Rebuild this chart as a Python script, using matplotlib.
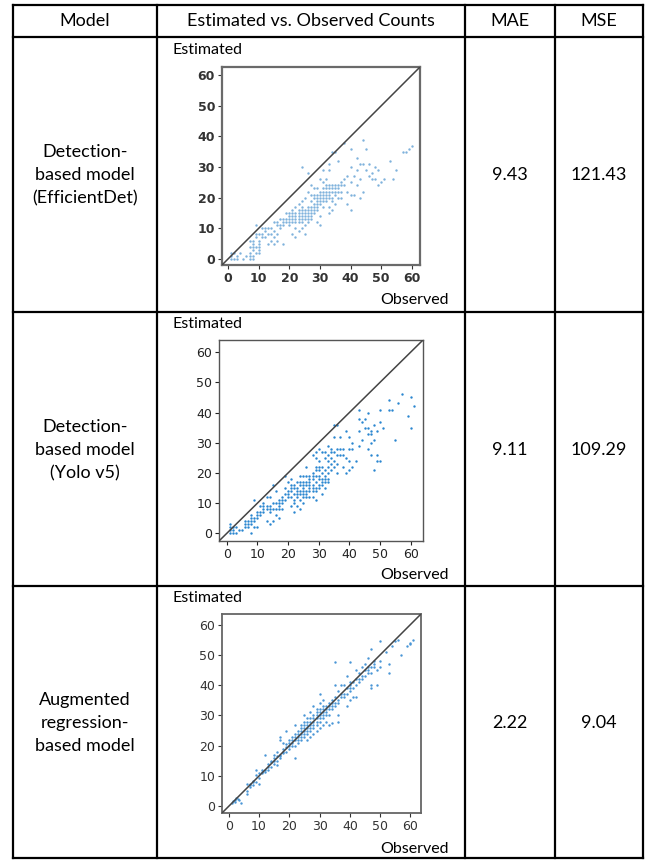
import matplotlib
matplotlib.use("Agg")
import matplotlib.pyplot as plt

# table text
headers = ["Model", "Estimated vs. Observed Counts", "MAE", "MSE"]
models = ["Detection-\nbased model\n(EfficientDet)",
          "Detection-\nbased model\n(Yolo v5)",
          "Augmented\nregression-\nbased model"]
mae = ["9.43", "9.11", "2.22"]
mse = ["121.43", "109.29", "9.04"]
ticks = [0, 10, 20, 30, 40, 50, 60]

# EfficientDet: observed / estimated
eff_obs = [1, 2, 3, 1, 1, 2, 3, 4, 5, 6, 7, 7, 7, 8, 8, 8, 7, 8, 8, 7, 8, 9, 9, 9, 9, 10, 10, 10,
           9, 10, 10, 11, 11, 12, 12, 13, 13, 14, 14, 15, 15, 15, 16, 16, 16, 17, 17, 18, 18, 18,
           19, 19, 20, 20, 20, 21, 21, 21, 21, 22, 22, 22, 22, 22, 23, 23, 23, 23, 23, 24, 24, 24,
           24, 24, 24, 24, 25, 25, 25, 25, 25, 26, 26, 26, 26, 26, 27, 27, 27, 27, 27, 28, 28, 28,
           28, 29, 29, 29, 29, 29, 30, 30, 30, 30, 30, 31, 31, 31, 31, 31, 32, 32, 32, 32, 33, 33,
           33, 33, 33, 33, 34, 34, 34, 34, 35, 35, 35, 35, 36, 36, 36, 37, 37, 38, 38, 39, 39, 39,
           40, 40, 40, 40, 40, 41, 41, 42, 42, 42, 43, 43, 43, 44, 44, 44, 45, 45, 46, 46, 47, 47,
           48, 48, 49, 49, 50, 51, 53, 54, 55, 57, 58, 59, 60,
           17, 18, 19, 20, 20, 21, 21, 22, 22, 23, 23, 24, 24, 25, 25, 26, 26, 26, 27, 27, 27, 28,
           28, 28, 29, 29, 29, 30, 30, 30, 31, 31, 31, 32, 32, 32, 33, 33, 33, 34, 34, 34, 35, 35,
           36, 36, 37, 37, 38, 14, 13, 12, 11, 10, 15, 16]
eff_est = [0, 0, 0, 1, 2, 2, 1, 2, 0, 1, 0, 1, 2, 0, 1, 3, 4, 4, 5, 6, 6, 7, 8, 11, 4, 3, 5, 6,
           2, 2, 4, 7, 8, 9, 10, 10, 5, 6, 8, 7, 9, 5, 6, 8, 12, 10, 11, 5, 12, 13,
           12, 15, 11, 13, 15, 8, 12, 14, 16, 7, 10, 13, 15, 17, 9, 12, 14, 16, 18, 10, 12, 14,
           15, 17, 19, 30, 8, 11, 13, 16, 20, 12, 14, 17, 22, 28, 13, 16, 19, 21, 24, 15, 17, 20,
           23, 12, 16, 18, 21, 23, 11, 14, 19, 22, 26, 17, 20, 23, 25, 29, 19, 21, 24, 26, 15, 17,
           20, 22, 29, 31, 16, 19, 23, 35, 18, 21, 24, 35, 22, 24, 32, 25, 20, 26, 38, 18, 22, 27,
           16, 21, 25, 30, 36, 21, 27, 24, 29, 33, 20, 26, 31, 22, 31, 39, 29, 36, 27, 31, 26, 28,
           26, 30, 24, 29, 25, 26, 32, 26, 29, 35, 35, 36, 37,
           13, 11, 13, 12, 14, 13, 15, 14, 12, 13, 15, 13, 16, 14, 15, 13, 15, 16, 14, 15, 17, 16,
           18, 21, 17, 19, 20, 18, 20, 21, 19, 21, 22, 20, 22, 23, 21, 23, 24, 20, 22, 24, 22, 23,
           20, 23, 22, 24, 24, 10, 8, 7, 10, 8, 12, 11]

# Yolo v5: observed / estimated
yolo_obs = [1, 1, 1, 1, 2, 2, 2, 3, 3, 4, 5, 6, 6, 6, 7, 7, 7, 8, 8, 8, 8, 8, 9, 9, 9, 9, 10, 10,
            10, 11, 11, 12, 12, 12, 13, 13, 13, 14, 14, 14, 14, 15, 15, 15, 16, 16, 16, 17, 17,
            17, 17, 18, 18, 18, 19, 19, 19, 20, 20, 20, 21, 21, 21, 21, 21, 22, 22, 22, 22, 23, 23,
            23, 23, 24, 24, 24, 24, 24, 25, 25, 25, 25, 25, 26, 26, 26, 26, 27, 27, 27, 27, 28, 28,
            28, 28, 28, 29, 29, 29, 29, 29, 29, 30, 30, 30, 30, 30, 31, 31, 31, 31, 31, 32, 32, 32,
            32, 32, 33, 33, 33, 33, 34, 34, 34, 35, 35, 35, 36, 36, 36, 36, 37, 37, 38, 38, 39, 39,
            39, 40, 40, 40, 40, 41, 41, 41, 42, 43, 43, 43, 43, 44, 44, 45, 45, 46, 46, 46, 46, 47,
            47, 47, 47, 48, 48, 48, 49, 49, 49, 50, 50, 50, 51, 53, 53, 54, 55, 56, 57, 59, 60, 60,
            61,
            20, 21, 22, 22, 23, 23, 24, 24, 25, 25, 25, 26, 26, 26, 27, 27, 27, 28, 28, 28, 29, 29,
            29, 30, 30, 30, 31, 31, 32, 32, 33, 33, 33, 34, 34, 35, 35, 36, 37, 38, 18, 19, 17, 16,
            15, 14, 13, 12, 11, 10]
yolo_est = [3, 2, 1, 0, 0, 1, 2, 0, 2, 1, 1, 2, 3, 4, 2, 3, 4, 0, 3, 4, 5, 6, 2, 4, 5, 11, 2, 5,
            7, 6, 9, 7, 9, 10, 4, 8, 12, 3, 7, 8, 12, 4, 8, 16, 6, 8, 14, 5, 9, 10,
            11, 8, 10, 11, 11, 15, 19, 12, 14, 17, 9, 12, 14, 16, 18, 7, 10, 13, 15, 9, 12,
            14, 17, 8, 11, 13, 16, 19, 10, 12, 14, 16, 19, 12, 14, 17, 22, 12, 15, 17, 19, 12, 15,
            18, 20, 26, 11, 14, 17, 22, 25, 27, 16, 18, 21, 24, 28, 13, 17, 20, 22, 27, 15, 18, 21,
            25, 27, 18, 22, 26, 29, 23, 25, 28, 24, 32, 36, 20, 26, 28, 36, 28, 32, 22, 26, 20, 25,
            34, 21, 24, 28, 32, 22, 28, 30, 24, 29, 34, 38, 41, 31, 37, 35, 38, 28, 33, 35, 40, 26,
            30, 33, 34, 21, 31, 36, 24, 26, 34, 24, 37, 41, 35, 41, 44, 41, 31, 43, 46, 39, 35, 45,
            42,
            13, 15, 11, 16, 13, 15, 14, 17, 13, 15, 17, 13, 16, 19, 14, 16, 18, 14, 16, 19, 15, 19,
            21, 15, 19, 22, 16, 18, 17, 19, 17, 20, 24, 21, 27, 22, 27, 23, 26, 28, 12, 13, 8, 10,
            10, 9, 9, 8, 7, 6]

# Augmented regression: observed / estimated
reg_obs = [1, 1.5, 2, 2, 2.5, 3, 3.5, 4, 6, 6, 6, 7, 7, 8, 8, 9, 9, 9, 10, 10, 10, 11, 11, 12, 12,
           13, 13, 14, 14, 15, 15, 15, 16, 16, 16, 17, 17, 17, 17, 18, 18, 18, 19, 19, 20, 20, 20,
           21, 21, 22, 22, 22, 22, 23, 23, 23, 24, 24, 24, 25, 25, 25, 25, 26, 26, 26, 26, 27, 27,
           27, 27, 28, 28, 28, 28, 29, 29, 29, 29, 30, 30, 30, 30, 30, 31, 31, 31, 31, 32, 32, 32,
           33, 33, 33, 34, 34, 34, 35, 35, 35, 35, 36, 36, 36, 36, 37, 37, 38, 38, 39, 39, 39, 40,
           40, 40, 40, 41, 41, 42, 42, 42, 43, 43, 44, 44, 45, 45, 46, 46, 46, 47, 47, 47, 47, 48,
           48, 49, 49, 50, 50, 50, 52, 53, 53, 54, 55, 56, 57, 59, 60, 60, 61,
           14, 15, 16, 17, 18, 19, 19, 20, 21, 21, 22, 22, 23, 23, 24, 24, 24, 25, 25, 25, 26, 26,
           26, 27, 27, 27, 28, 28, 28, 29, 29, 29, 30, 30, 30, 31, 31, 31, 32, 32, 33, 33, 34, 34,
           35, 36, 37, 38, 39, 40, 40, 41, 42, 43, 44, 45, 46, 47, 48, 12, 11, 13, 8, 7]
reg_est = [1.2, 1.8, 2.2, 1.5, 2.8, 2.5, 2, 1, 4, 5, 7.5, 6.5, 7.5, 7, 8.5, 8, 10.5, 12, 9.5, 11,
           7.5, 11, 12, 11.5, 17, 12, 14, 13, 15, 14, 16, 17, 13.5, 15, 18, 16, 17, 22, 23, 17.5, 19,
           21, 18, 25, 19, 20, 22, 20, 23, 16, 20, 22, 27, 21, 23, 25, 22, 24, 27, 23, 25, 28, 30,
           22, 24, 26, 29, 23, 25, 28, 31, 24, 27, 29, 33, 25, 28, 30, 32, 26, 28, 31, 34, 37, 27,
           29, 32, 35, 28, 31, 33, 27, 30, 34, 27.5, 32, 35, 33, 36, 40, 47.5, 28, 30, 34, 38, 36,
           40, 37, 40, 33, 37, 43, 35, 38, 41, 47.5, 36, 39, 36, 40, 45, 41, 44, 42, 46, 43, 47, 44,
           45, 49, 39, 40, 44, 52, 46, 48, 40, 45, 46, 48, 54.5, 51, 44, 47, 53, 54.5, 55, 50, 53,
           53.5, 54, 55,
           14.5, 15, 16.5, 16.5, 18, 19.5, 20.5, 21, 21, 22, 23, 24, 22, 24, 23, 25, 26, 24, 26, 27,
           25, 27, 28, 26, 27, 29, 26, 28, 30, 27, 29, 31, 29, 30, 32, 30, 31, 33, 30, 32, 32, 33,
           33, 34, 34, 35, 37, 36, 39, 40, 39, 41, 42, 42, 43, 45, 46, 46, 47, 12, 11.5, 13, 8, 7]

W, H = 648, 860
fig = plt.figure(figsize=(W / 100, H / 100), dpi=100)
bg = fig.add_axes([0, 0, 1, 1])
bg.set_xlim(0, W)
bg.set_ylim(H, 0)
bg.axis("off")

font = "Lato"
col_x = [13, 157, 465, 555, 643]
row_y = [5, 37, 312, 586, 858]
for x in col_x:
    bg.plot([x, x], [row_y[0], row_y[-1]], color="black", lw=1.6, solid_capstyle="projecting")
for y in row_y:
    bg.plot([col_x[0], col_x[-1]], [y, y], color="black", lw=1.6, solid_capstyle="projecting")

centers = [(col_x[i] + col_x[i + 1]) / 2 for i in range(4)]
for cx, h in zip(centers, headers):
    bg.text(cx, 21, h, ha="center", va="center", fontsize=13, family=font)

row_mid = [(row_y[i] + row_y[i + 1]) / 2 + 1 for i in range(1, 4)]
for i in range(3):
    bg.text(centers[0], row_mid[i], models[i], ha="center", va="center", fontsize=13,
            family=font, linespacing=1.55)
    bg.text(centers[2], row_mid[i], mae[i], ha="center", va="center", fontsize=13, family=font)
    bg.text(centers[3], row_mid[i], mse[i], ha="center", va="center", fontsize=13, family=font)

# scatter panels: (left, top, right, bottom) in pixels, axis limits, style
panels = [
    dict(box=(222, 67, 420, 265), lim=(-2.0, 62.7), obs=eff_obs, est=eff_est,
         c="#7fb2dc", frame="#6a6a6a", flw=1.6, tc="#333333", tw="bold", lab_y=(50, 300)),
    dict(box=(219, 340, 423, 541), lim=(-2.5, 64.0), obs=yolo_obs, est=yolo_est,
         c="#2a86d0", frame="#555555", flw=1.0, tc="#222222", tw="normal", lab_y=(324, 575)),
    dict(box=(222, 614, 421, 813), lim=(-2.2, 63.5), obs=reg_obs, est=reg_est,
         c="#4a96d6", frame="#666666", flw=1.3, tc="#333333", tw="normal", lab_y=(598, 849)),
]

for p in panels:
    l, t, r, b = p["box"]
    ax = fig.add_axes([l / W, 1 - b / H, (r - l) / W, (b - t) / H])
    lo, hi = p["lim"]
    ax.scatter(p["obs"], p["est"], s=3, color=p["c"], linewidths=0, zorder=2)
    ax.plot([lo, hi], [lo, hi], color="#444444", lw=1.1, zorder=3)
    ax.set_xlim(lo, hi)
    ax.set_ylim(lo, hi)
    ax.set_xticks(ticks)
    ax.set_yticks(ticks)
    ax.tick_params(labelsize=9, colors=p["tc"], length=3, width=0.8, pad=2)
    for lbl in ax.get_xticklabels() + ax.get_yticklabels():
        lbl.set_fontweight(p["tw"])
    for s in ax.spines.values():
        s.set_color(p["frame"])
        s.set_linewidth(p["flw"])
    bg.text(172, p["lab_y"][0], "Estimated", ha="left", va="center", fontsize=11.5, family=font)
    bg.text(449, p["lab_y"][1], "Observed", ha="right", va="center", fontsize=11.5, family=font)

fig.savefig("out.png", dpi=100)
